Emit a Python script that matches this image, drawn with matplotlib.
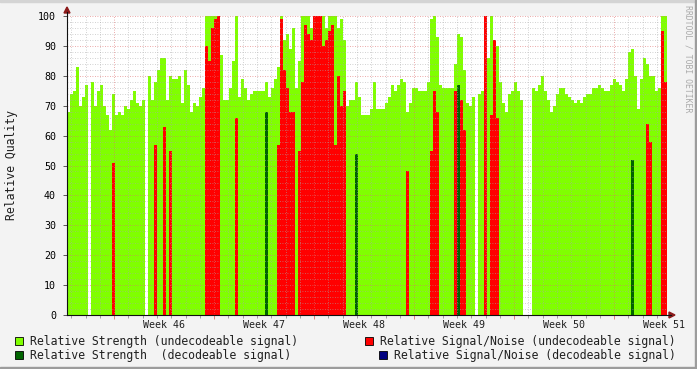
import numpy as np
import matplotlib
matplotlib.use("Agg")
from matplotlib import pyplot as plt
from matplotlib.lines import Line2D
from matplotlib.patches import Rectangle, Polygon

# one sample per 3 px column: 200 columns over 6 weeks (42 days)
strength_undec = [
    68, 74, 75, 83, 70, 73, 77, 0, 78, 70,
    75, 77, 70, 67, 62, 74, 67, 68, 67, 70,
    69, 72, 75, 71, 70, 72, 0, 80, 72, 78,
    82, 86, 86, 72, 80, 79, 79, 80, 71, 82,
    77, 68, 71, 70, 73, 76, 100, 100, 100, 100,
    100, 87, 72, 72, 76, 85, 100, 73, 79, 76,
    72, 74, 75, 75, 75, 75, 78, 73, 76, 79,
    83, 100, 92, 94, 89, 96, 76, 85, 100, 100,
    100, 96, 100, 100, 100, 100, 96, 100, 100, 100,
    96, 99, 92, 70, 72, 72, 78, 73, 67, 67,
    67, 69, 78, 69, 69, 69, 71, 73, 77, 75,
    77, 79, 78, 68, 71, 76, 76, 75, 75, 75,
    78, 99, 100, 93, 77, 76, 76, 76, 76, 84,
    94, 93, 82, 71, 70, 73, 0, 74, 75, 81,
    86, 100, 92, 90, 78, 71, 68, 74, 75, 78,
    75, 72, 0, 0, 0, 76, 75, 77, 80, 75,
    72, 68, 70, 74, 76, 76, 74, 73, 72, 71,
    72, 71, 73, 74, 74, 76, 76, 77, 76, 75,
    75, 77, 79, 78, 77, 75, 79, 88, 89, 80,
    69, 79, 86, 84, 80, 80, 75, 76, 100, 100,
]

snr_undec = [
    0, 0, 0, 0, 0, 0, 0, 0, 0, 0,
    0, 0, 0, 0, 0, 51, 0, 0, 0, 0,
    0, 0, 0, 0, 0, 0, 0, 0, 0, 57,
    0, 0, 63, 0, 55, 0, 0, 0, 0, 0,
    0, 0, 0, 0, 0, 0, 90, 85, 96, 99,
    100, 0, 0, 0, 0, 0, 66, 0, 0, 0,
    0, 0, 0, 0, 0, 0, 0, 0, 0, 0,
    57, 99, 82, 76, 68, 68, 0, 55, 78, 97,
    94, 92, 100, 100, 100, 90, 92, 95, 97, 57,
    80, 70, 75, 0, 0, 0, 0, 0, 0, 0,
    0, 0, 0, 0, 0, 0, 0, 0, 0, 0,
    0, 0, 0, 48, 0, 0, 0, 0, 0, 0,
    0, 55, 75, 68, 0, 0, 0, 0, 0, 75,
    0, 72, 62, 0, 0, 0, 0, 0, 0, 100,
    0, 67, 92, 66, 0, 0, 0, 0, 0, 0,
    0, 0, 0, 0, 0, 0, 0, 0, 0, 0,
    0, 0, 0, 0, 0, 0, 0, 0, 0, 0,
    0, 0, 0, 0, 0, 0, 0, 0, 0, 0,
    0, 0, 0, 0, 0, 0, 0, 0, 0, 0,
    0, 0, 0, 64, 58, 0, 0, 0, 95, 78,
]

# decodeable strength only shows up as a few single columns
strength_dec = [0] * 200
for i, v in [(66, 68), (96, 54), (130, 77), (188, 52)]:
    strength_dec[i] = v

week_labels = ["Week 46", "Week 47", "Week 48", "Week 49", "Week 50", "Week 51"]
legend_items = [
    ("Relative Strength (undecodeable signal)", "#80ff00"),
    ("Relative Strength  (decodeable signal)", "#006400"),
    ("Relative Signal/Noise (undecodeable signal)", "#ff0000"),
    ("Relative Signal/Noise (decodeable signal)", "#000080"),
]

W, H = 697, 369
MONO = "DejaVu Sans Mono"


def px(x, y):
    return x / W, 1 - y / H


fig = plt.figure(figsize=(W / 100, H / 100), dpi=100, facecolor="#f3f3f3")
ax = fig.add_axes([67 / W, (H - 315) / H, 600 / W, 299 / H])
ax.set_facecolor("white")

step = 42 / len(strength_undec)
days = np.arange(len(strength_undec)) * step
ax.bar(days, strength_undec, width=step, align="edge", color="#80ff00", linewidth=0, zorder=1)
ax.bar(days, snr_undec, width=step, align="edge", color="#ff0000", linewidth=0, zorder=1.1)
ax.bar(days, strength_dec, width=step, align="edge", color="#006400", linewidth=0, zorder=1.2)

ax.set_xlim(0, 42)
ax.set_ylim(0, 100)
ax.set_yticks(range(0, 101, 10))
ax.set_yticks(range(0, 101, 2), minor=True)
ax.set_xticks([3.3 + 7 * n for n in range(6)])
ax.set_xticks([0.3 + n for n in range(42)], minor=True)
ax.set_xticklabels([])
ax.set_axisbelow(False)
ax.grid(which="minor", color="#a8a8a8", linestyle=(0, (1, 2)), linewidth=0.6, alpha=0.7)
ax.grid(which="major", color="#e07070", linestyle=(0, (1, 2)), linewidth=0.6, alpha=0.8)
ax.tick_params(axis="y", which="major", length=3, width=0.6, color="#404040", pad=5,
               labelsize=7.2, labelfontfamily=MONO)
ax.tick_params(axis="y", which="minor", length=0)
ax.tick_params(axis="x", which="major", length=3, width=0.6, color="#e07070")
ax.tick_params(axis="x", which="minor", length=2, width=0.6, color="#909090")
for s in ax.spines.values():
    s.set_visible(False)

for n, lab in enumerate(week_labels):
    ax.text(6.8 + 7 * n, -0.016, lab, transform=ax.get_xaxis_transform(),
            ha="center", va="top", fontsize=7.2, family=MONO, color="#202020")

# axes lines and arrows
fig.add_artist(Line2D([px(67, 315)[0], px(671, 315)[0]], [px(67, 315)[1]] * 2,
                      color="#101010", lw=0.8, transform=fig.transFigure))
fig.add_artist(Line2D([px(67, 315)[0]] * 2, [px(67, 315)[1], px(67, 12)[1]],
                      color="#101010", lw=0.8, transform=fig.transFigure))
fig.add_artist(Polygon([px(64, 13), px(70, 13), px(67, 7)], closed=True,
                       color="#8b1a1a", transform=fig.transFigure))
fig.add_artist(Polygon([px(669, 312), px(669, 318), px(675, 315)], closed=True,
                       color="#8b1a1a", transform=fig.transFigure))

fig.text(*px(12, 165), "Relative Quality", rotation=90, ha="center", va="center",
         fontsize=8.3, family=MONO, color="#202020")
fig.text(*px(688, 5), "RRDTOOL / TOBI OETIKER", rotation=270, ha="center", va="top",
         fontsize=5.9, family=MONO, color="#aaaaaa")

# legend
legend_pos = [(15, 341, 30), (15, 355, 30), (365, 341, 380), (379, 355, 394)]
for (label, color), (sx, sy, tx) in zip(legend_items, legend_pos):
    x0, y0 = px(sx, sy + 4)
    fig.add_artist(Rectangle((x0, y0), 8 / W, 8 / H, facecolor=color, edgecolor="black",
                             linewidth=0.6, transform=fig.transFigure))
    fig.text(*px(tx, sy), label, ha="left", va="center", fontsize=8.3, family=MONO,
             color="#202020")

# frame
fig.add_artist(Rectangle((0, 1 - 2 / H), 1, 2 / H, color="#d4d4d4", transform=fig.transFigure))
fig.add_artist(Rectangle((0, 0), 1, 2 / H, color="#9c9c9c", transform=fig.transFigure))
fig.add_artist(Rectangle((1 - 2 / W, 0), 2 / W, 1, color="#9c9c9c", transform=fig.transFigure))

fig.savefig("out.png", dpi=100, facecolor=fig.get_facecolor())
